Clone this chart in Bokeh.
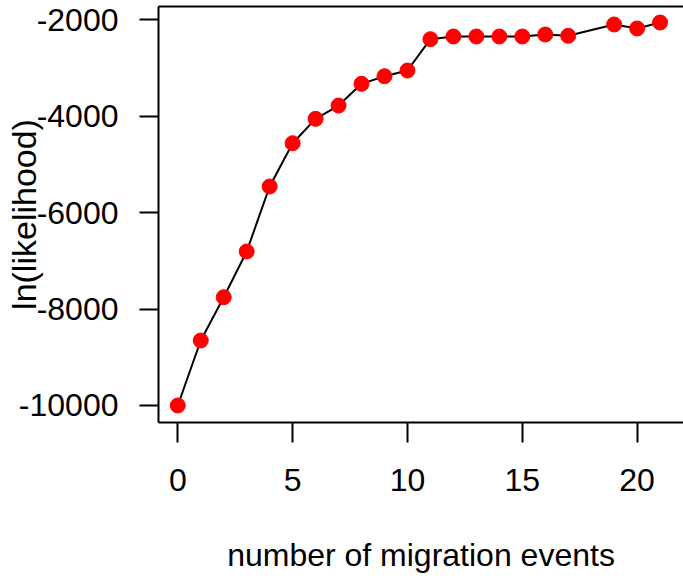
from bokeh.plotting import figure
from bokeh.models import LinearAxis, FixedTicker, Range1d, ColumnDataSource
from bokeh.embed import file_html
from bokeh.resources import INLINE

# data
events = [0, 1, 2, 3, 4, 5, 6, 7, 8, 9, 10, 11, 12, 13, 14, 15, 16, 17, 19, 20, 21]
loglik = [-10000, -8652, -7754, -6806, -5458, -4560, -4054, -3778, -3328, -3170, -3052,
          -2402, -2346, -2346, -2346, -2346, -2305, -2332, -2097, -2180, -2056]
x_ticks = [0, 5, 10, 15, 20]
y_ticks = [-10000, -8000, -6000, -4000, -2000]
x_label = "number of migration events"
y_label = "ln(likelihood)"

FONT = "Liberation Sans"
FS = "32px"

W, H = 683, 580
p = figure(width=W, height=H, output_backend="svg", toolbar_location=None,
           x_range=Range1d(-0.84, 22.02), y_range=Range1d(-10353, -1724),
           x_axis_location=None, y_axis_location=None,
           min_border_left=158, min_border_right=0, min_border_top=6, min_border_bottom=158)
p.grid.visible = False
p.outline_line_color = None
p.background_fill_color = "white"
p.border_fill_color = "white"

src = ColumnDataSource(dict(x=events, y=loglik))
p.line("x", "y", source=src, line_color="black", line_width=2)
p.scatter("x", "y", source=src, size=15, fill_color="#ff0000", line_color="#ff0000")

def style(ax):
    ax.axis_line_color = "black"
    ax.axis_line_width = 2
    ax.major_tick_line_color = "black"
    ax.major_tick_line_width = 2
    ax.major_tick_in = 0
    ax.minor_tick_line_color = None
    ax.major_label_text_font = FONT
    ax.major_label_text_font_size = FS
    ax.major_label_text_color = "black"

left = LinearAxis(ticker=FixedTicker(ticks=y_ticks))
style(left)
left.major_tick_out = 19
left.major_label_standoff = 21
left.major_label_orientation = "horizontal"
left.major_label_overrides = {v: str(v) for v in y_ticks}
left.axis_label = y_label
left.axis_label_text_font = FONT
left.axis_label_text_font_size = "34px"
left.axis_label_text_font_style = "normal"
left.axis_label_text_color = "black"
left.axis_label_standoff = -27
p.add_layout(left, "left")

bottom = LinearAxis(ticker=FixedTicker(ticks=x_ticks))
style(bottom)
bottom.major_tick_out = 20
bottom.major_label_standoff = 26
bottom.major_label_overrides = {v: str(v) for v in x_ticks}
bottom.axis_label = x_label
bottom.axis_label_text_font = FONT
bottom.axis_label_text_font_size = FS
bottom.axis_label_text_font_style = "normal"
bottom.axis_label_text_color = "black"
bottom.axis_label_standoff = 43
p.add_layout(bottom, "below")

top = LinearAxis(ticker=FixedTicker(ticks=[]))
top.axis_line_color = "black"
top.axis_line_width = 2
top.major_tick_line_color = None
top.minor_tick_line_color = None
top.major_label_text_font_size = "0px"
top.major_label_standoff = 0
top.major_tick_out = 0
top.major_tick_in = 0
p.add_layout(top, "above")

open("out.html", "w").write(file_html(p, INLINE))
